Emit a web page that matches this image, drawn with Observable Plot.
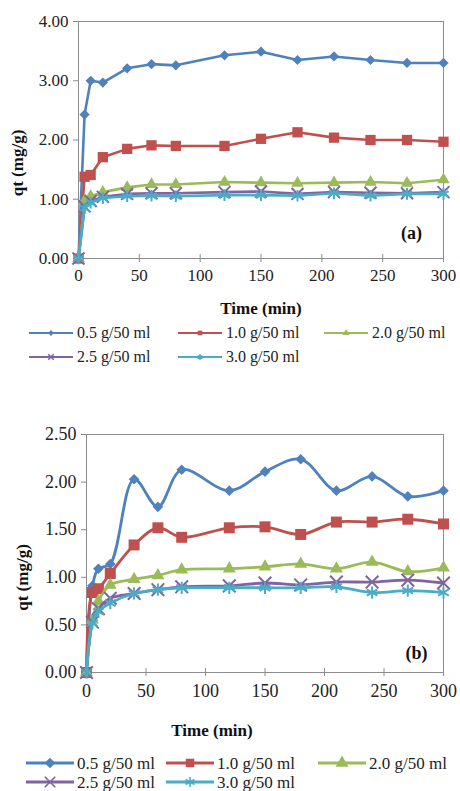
<!DOCTYPE html>
<html>
<head>
<meta charset="utf-8">
<script src="https://cdn.jsdelivr.net/npm/d3@7"></script>
<script src="https://cdn.jsdelivr.net/npm/@observablehq/plot@0.6"></script>
<style>
  html, body { margin: 0; padding: 0; background: #fff; }
  #page { position: relative; width: 460px; height: 791px; background: #fff; font-family: "Liberation Serif", "Times New Roman", serif; color: #222; overflow: hidden; }
  #page svg.plot { position: absolute; left: 0; font-family: "Liberation Serif", "Times New Roman", serif !important; }
  #page svg.plot text { font-family: "Liberation Serif", "Times New Roman", serif; }
  .leg { position: absolute; display: flex; align-items: center; white-space: nowrap; line-height: 1; }
  .leg svg { display: block; }
</style>
</head>
<body>
<div id="page"></div>
<script>
// ---------------- data ----------------
const times = [0, 5, 10, 20, 40, 60, 80, 120, 150, 180, 210, 240, 270, 300];
const seriesNames = ["0.5 g/50 ml", "1.0 g/50 ml", "2.0 g/50 ml", "2.5 g/50 ml", "3.0 g/50 ml"];
const seriesColors = ["#4F81BD", "#C0504D", "#9BBB59", "#8064A2", "#4BACC6"];
const seriesSymbols = ["diamond2", "square", "triangle", "times", "asterisk"];

// panel (a)
const a05 = [0, 2.43, 3.00, 2.97, 3.21, 3.28, 3.26, 3.43, 3.49, 3.35, 3.41, 3.35, 3.30, 3.30];
const a10 = [0, 1.38, 1.41, 1.71, 1.85, 1.91, 1.90, 1.90, 2.02, 2.13, 2.04, 2.00, 2.00, 1.97];
const a20 = [0, 0.98, 1.05, 1.12, 1.20, 1.25, 1.25, 1.29, 1.28, 1.27, 1.28, 1.29, 1.27, 1.33];
const a25 = [0, 0.88, 0.97, 1.04, 1.09, 1.10, 1.10, 1.12, 1.13, 1.09, 1.12, 1.11, 1.10, 1.12];
const a30 = [0, 0.85, 0.94, 1.02, 1.05, 1.06, 1.05, 1.07, 1.07, 1.06, 1.10, 1.06, 1.09, 1.09];

// panel (b)
const b05 = [0, 0.91, 1.09, 1.14, 2.03, 1.74, 2.13, 1.91, 2.11, 2.24, 1.91, 2.06, 1.85, 1.91];
const b10 = [0, 0.84, 0.88, 1.04, 1.34, 1.52, 1.42, 1.52, 1.53, 1.45, 1.58, 1.58, 1.61, 1.56];
const b20 = [0, 0.55, 0.75, 0.92, 0.98, 1.02, 1.08, 1.09, 1.11, 1.14, 1.09, 1.16, 1.06, 1.10];
const b25 = [0, 0.53, 0.67, 0.78, 0.83, 0.87, 0.90, 0.91, 0.94, 0.92, 0.95, 0.95, 0.97, 0.94];
const b30 = [0, 0.52, 0.64, 0.73, 0.83, 0.87, 0.89, 0.89, 0.89, 0.89, 0.90, 0.84, 0.86, 0.84];

const xTicks = [0, 50, 100, 150, 200, 250, 300];
const yTicksA = [0, 1, 2, 3, 4];
const yTicksB = [0, 0.5, 1, 1.5, 2, 2.5];

// ---------------- helpers ----------------
const page = document.getElementById("page");
const FONT = '"Liberation Serif", "Times New Roman", serif';

function rows(seriesValues) {
  return seriesValues.map((vals, si) => times.map((t, i) => ({series: seriesNames[si], time: t, qt: vals[i]})));
}

function panel(cfg) {
  const data = rows(cfg.values);
  const marks = [
    Plot.frame({stroke: "#8c8c8c", strokeWidth: 1}),
    Plot.axisY({ticks: cfg.yTicks, tickFormat: d3.format(".2f"), tickSize: 5, tickPadding: 5,
      fontSize: cfg.tickFont, fontFamily: FONT, stroke: "#8c8c8c", fill: "#222", label: null}),
    Plot.axisX({ticks: xTicks, tickFormat: d3.format("d"), tickSize: 0, tickPadding: cfg.xPad,
      fontSize: cfg.tickFont, fontFamily: FONT, fill: "#222", label: null}),
    Plot.axisX({ticks: xTicks, tickSize: 8, dy: -4, tickFormat: () => "", stroke: "#8c8c8c", label: null}),
  ];
  data.forEach((d, si) => {
    const color = seriesColors[si];
    marks.push(Plot.lineY(d, {x: "time", y: "qt", stroke: color, strokeWidth: cfg.lineWidth, curve: cfg.curve}));
    const sym = seriesSymbols[si];
    const stroked = sym === "times" || sym === "asterisk";
    marks.push(Plot.dot(d, {x: "time", y: "qt", symbol: () => sym, r: cfg.r[si],
      fill: stroked ? "none" : color, stroke: stroked ? color : "none", strokeWidth: stroked ? 2 : 0}));
  });
  marks.push(Plot.text([cfg.tag], {frameAnchor: "bottom-right", dx: cfg.tagDx, dy: cfg.tagDy,
    textAnchor: "middle", lineAnchor: "middle", fontWeight: "bold", fontSize: cfg.tagFont, fontFamily: FONT, fill: "#111"}));
  marks.push(Plot.text(["Time (min)"], {frameAnchor: "bottom", dx: cfg.xLabDx, dy: cfg.xLabDy,
    textAnchor: "middle", lineAnchor: "middle", fontWeight: "bold", fontSize: cfg.labFont, fontFamily: FONT, fill: "#111"}));
  marks.push(Plot.text(["qt (mg/g)"], {frameAnchor: "left", dx: cfg.yLabDx, dy: cfg.yLabDy, rotate: -90,
    textAnchor: "middle", lineAnchor: "middle", fontWeight: "bold", fontSize: cfg.labFont, fontFamily: FONT, fill: "#111"}));

  const svg = Plot.plot({
    width: 460, height: cfg.height,
    marginLeft: cfg.ml, marginRight: 17, marginTop: cfg.mt, marginBottom: cfg.mb,
    style: {fontFamily: FONT, background: "transparent", overflow: "visible"},
    x: {domain: [0, 300]},
    y: {domain: cfg.yDomain},
    marks
  });
  svg.classList.add("plot");
  svg.style.top = cfg.top + "px";
  page.appendChild(svg);

  // legend
  cfg.legend.pos.forEach(([x, y], si) => {
    const w = cfg.legend.sw;
    const item = document.createElement("div");
    item.className = "leg";
    item.style.left = x + "px";
    item.style.top = (y - 10) + "px";
    item.style.height = "20px";
    item.style.fontSize = cfg.legend.font + "px";
    const sym = seriesSymbols[si];
    const stroked = sym === "times" || sym === "asterisk";
    const symObj = {diamond2: d3.symbolDiamond2, square: d3.symbolSquare, triangle: d3.symbolTriangle,
      times: d3.symbolTimes, asterisk: d3.symbolAsterisk}[sym];
    const rr = cfg.legend.r;
    const path = d3.symbol(symObj, Math.PI * rr * rr)();
    const c = seriesColors[si];
    item.innerHTML =
      `<svg width="${w}" height="20" viewBox="0 0 ${w} 20">` +
      `<line x1="0" x2="${w}" y1="10" y2="10" stroke="${c}" stroke-width="${cfg.legend.lw}"/>` +
      `<path transform="translate(${w / 2},10)" d="${path}" fill="${stroked ? "none" : c}" stroke="${stroked ? c : "none"}" stroke-width="${stroked ? 1.6 : 0}"/>` +
      `</svg><span style="margin-left:${cfg.legend.gap}px">${seriesNames[si]}</span>`;
    page.appendChild(item);
  });
}

// ---------------- panel (a) ----------------
panel({
  values: [a05, a10, a20, a25, a30],
  top: 0, height: 320, ml: 78, mt: 21, mb: 62,
  yDomain: [0, 4], yTicks: yTicksA,
  tickFont: 17, xPad: 10, labFont: 17, tagFont: 18,
  lineWidth: 2.6, curve: "linear", r: [4.6, 5.8, 4.6, 5.5, 5.5],
  tag: "(a)", tagDx: -32, tagDy: -25,
  xLabDx: 0, xLabDy: 50, yLabDx: -61, yLabDy: 23,
  legend: {font: 16, sw: 44, lw: 2.2, r: 2.6, gap: 4,
    pos: [[29, 333], [178, 333], [324, 333], [29, 357], [178, 357]]}
});

// ---------------- panel (b) ----------------
panel({
  values: [b05, b10, b20, b25, b30],
  top: 400, height: 340, ml: 86, mt: 34, mb: 68,
  yDomain: [0, 2.5], yTicks: yTicksB,
  tickFont: 18, xPad: 12, labFont: 17, tagFont: 18,
  lineWidth: 2.8, curve: "catmull-rom", r: [4.8, 6.2, 4.8, 5.8, 5.8],
  tag: "(b)", tagDx: -27, tagDy: -19,
  xLabDx: -53, xLabDy: 58, yLabDx: -64, yLabDy: 24,
  legend: {font: 17, sw: 48, lw: 3.2, r: 4.8, gap: 3,
    pos: [[26, 763], [166, 763], [318, 763], [26, 782], [166, 782]]}
});
</script>
</body>
</html>
